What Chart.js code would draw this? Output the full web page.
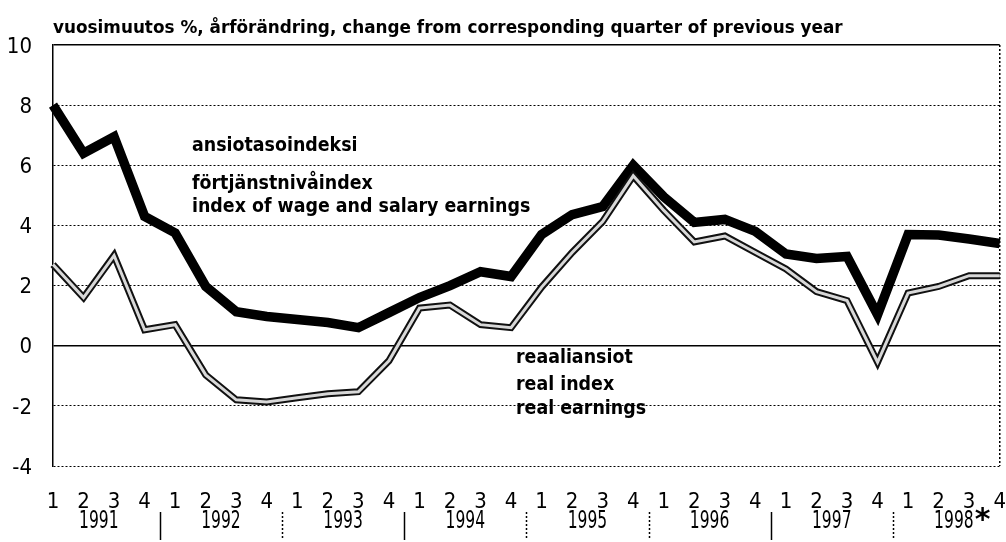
<!DOCTYPE html>
<html>
<head>
<meta charset="utf-8">
<script src="https://cdn.jsdelivr.net/npm/chart.js@4/dist/chart.umd.min.js"></script>
<style>
  html, body { margin: 0; padding: 0; background: #fff; }
  #wrap { width: 1006px; height: 542px; }
</style>
</head>
<body>
<div id="wrap"><canvas id="earnings" width="1006" height="542"></canvas></div>
<script>
const quarters = ["1", "2", "3", "4", "1", "2", "3", "4", "1", "2", "3", "4", "1", "2", "3", "4",
  "1", "2", "3", "4", "1", "2", "3", "4", "1", "2", "3", "4", "1", "2", "3", "4"];
const years = ["1991", "1992", "1993", "1994", "1995", "1996", "1997", "1998"];
const yearMarks = ["", "", "", "", "", "", "", "*"];

// ansiotasoindeksi / index of wage and salary earnings
const wageIndex = [8.0, 6.4, 6.95, 4.3, 3.75, 1.97, 1.13, 0.97,
  0.87, 0.77, 0.6, 1.1, 1.6, 2.0, 2.46, 2.3,
  3.7, 4.36, 4.63, 6.0, 4.95, 4.1, 4.2, 3.8,
  3.05, 2.9, 2.97, 1.03, 3.7, 3.68, 3.55, 3.4];

// reaaliansiot / real earnings
const realIndex = [2.7, 1.6, 3.0, 0.53, 0.7, -0.97, -1.8, -1.87,
  -1.73, -1.6, -1.53, -0.5, 1.25, 1.35, 0.7, 0.6,
  1.95, 3.1, 4.13, 5.65, 4.5, 3.45, 3.65, 3.1,
  2.55, 1.8, 1.5, -0.55, 1.75, 1.97, 2.33, 2.33];

const titleText = "vuosimuutos %, årförändring, change from corresponding quarter of previous year";
const notes = [
  { text: "ansiotasoindeksi", at: 4.55, v: 6.46 },
  { text: "förtjänstnivåindex", at: 4.55, v: 5.22 },
  { text: "index of wage and salary earnings", at: 4.55, v: 4.46 },
  { text: "reaaliansiot", at: 15.16, v: -0.57 },
  { text: "real index", at: 15.16, v: -1.46 },
  { text: "real earnings", at: 15.16, v: -2.26 },
];
// which year separators are solid (scan shows a mix)
const solidSeps = [true, false, true, false, false, true, false];

const condensed = "'Liberation Sans Narrow', 'DejaVu Sans Condensed', sans-serif";
const boldCondensed = "'DejaVu Sans Condensed', 'Liberation Sans Narrow', sans-serif";
const tickFont = { family: condensed, size: 22 };

// draw text squeezed or stretched horizontally
function drawText(ctx, text, x, y, sx) {
  ctx.save();
  ctx.translate(x, y);
  ctx.scale(sx, 1);
  ctx.fillText(text, 0, 0);
  ctx.restore();
}

const extrasPlugin = {
  id: "extras",
  afterDraw(chart) {
    const ctx = chart.ctx;
    const xs = chart.scales.x;
    const ys = chart.scales.y;
    ctx.save();
    ctx.fillStyle = "#000";
    ctx.textBaseline = "alphabetic";
    ctx.textAlign = "left";
    ctx.font = "bold 18px " + boldCondensed;
    drawText(ctx, titleText, chart.chartArea.left, chart.chartArea.top - 12, 1.04);
    ctx.font = "bold 19px " + boldCondensed;
    notes.forEach((n) => {
      drawText(ctx, n.text, xs.getPixelForValue(n.at), ys.getPixelForValue(n.v), 1.02);
    });

    // year labels under the quarters
    ctx.font = "24px " + condensed;
    ctx.textAlign = "center";
    ctx.textBaseline = "middle";
    const squeeze = 0.72;
    years.forEach((yr, i) => {
      const cx = xs.getPixelForValue(i * 4 + 1.5);
      drawText(ctx, yr, cx, 522, squeeze);
      if (yearMarks[i]) {
        const w = ctx.measureText(yr).width * squeeze;
        ctx.save();
        ctx.font = "bold 30px 'DejaVu Sans', sans-serif";
        ctx.textAlign = "left";
        ctx.fillText(yearMarks[i], cx + w / 2 + 1, 521);
        ctx.restore();
      }
    });

    // separators between years
    ctx.strokeStyle = "#000";
    ctx.lineWidth = 1.5;
    for (let i = 0; i < years.length - 1; i++) {
      const sx = Math.round(xs.getPixelForValue(i * 4 + 3.5)) + 0.5;
      ctx.setLineDash(solidSeps[i] ? [] : [2, 2]);
      ctx.beginPath();
      ctx.moveTo(sx, 512);
      ctx.lineTo(sx, 540);
      ctx.stroke();
    }
    ctx.restore();
  },
};

const chart = new Chart(document.getElementById("earnings").getContext("2d"), {
  type: "line",
  data: {
    labels: quarters,
    datasets: [
      {
        label: "ansiotasoindeksi",
        data: wageIndex,
        borderColor: "#000",
        borderWidth: 9.5,
        borderJoinStyle: "miter",
        pointRadius: 0,
        tension: 0,
        order: 3,
      },
      {
        label: "reaaliansiot",
        data: realIndex,
        borderColor: "#111",
        borderWidth: 7,
        borderJoinStyle: "miter",
        pointRadius: 0,
        tension: 0,
        order: 2,
      },
      {
        label: "reaaliansiot (inner)",
        data: realIndex,
        borderColor: "#d8d8d8",
        borderWidth: 3,
        borderJoinStyle: "miter",
        pointRadius: 0,
        tension: 0,
        order: 1,
      },
    ],
  },
  options: {
    responsive: false,
    animation: false,
    layout: { padding: { top: 45, right: 6, left: 0, bottom: 0 } },
    scales: {
      x: {
        offset: false,
        afterFit: (scale) => {
          scale.height = 76;
        },
        grid: {
          drawTicks: true,
          tickLength: 23,
          tickColor: "rgba(0,0,0,0)",
          color: (c) => (c.index === quarters.length - 1 ? "#000" : "rgba(0,0,0,0)"),
          lineWidth: 1.5,
        },
        border: { display: false, dash: [2, 2] },
        ticks: {
          autoSkip: false,
          maxRotation: 0,
          padding: 0,
          color: "#000",
          font: tickFont,
        },
      },
      y: {
        min: -4,
        max: 10,
        afterFit: (scale) => {
          scale.width = 53;
        },
        grid: {
          drawTicks: true,
          tickLength: 21,
          tickColor: "rgba(0,0,0,0)",
          color: "#000",
          lineWidth: (c) => (c.tick && (c.tick.value === 0 || c.tick.value === 10) ? 1.5 : 1),
        },
        border: {
          display: true,
          color: "#000",
          width: 1.5,
          dash: (c) => (c.tick && (c.tick.value === 0 || c.tick.value === 10) ? [] : [2, 2]),
        },
        ticks: {
          stepSize: 2,
          padding: 0,
          labelOffset: 2,
          color: "#000",
          font: tickFont,
        },
      },
    },
    plugins: {
      legend: { display: false },
      tooltip: { enabled: false },
      title: { display: false },
    },
  },
  plugins: [extrasPlugin],
});
</script>
</body>
</html>
